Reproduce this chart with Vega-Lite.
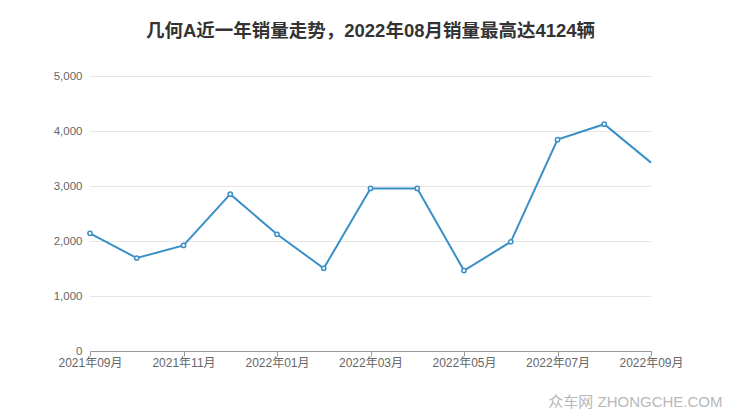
{
  "$schema": "https://vega.github.io/schema/vega-lite/v6.json",
  "width": 561,
  "height": 275,
  "autosize": {"type": "none"},
  "padding": {"left": 90, "top": 76, "right": 89, "bottom": 66},
  "background": "white",
  "title": {
    "text": "几何A近一年销量走势，2022年08月销量最高达4124辆",
    "font": "Liberation Sans, Noto Sans CJK SC",
    "fontSize": 18.5,
    "fontWeight": "bold",
    "color": "#333333",
    "anchor": "middle",
    "offset": 30
  },
  "config": {
    "view": {"stroke": null},
    "font": "Liberation Sans, Noto Sans CJK SC"
  },
  "data": {
    "values": [
      {"month": "2021年09月", "sales": 2140},
      {"month": "2021年10月", "sales": 1690},
      {"month": "2021年11月", "sales": 1920},
      {"month": "2021年12月", "sales": 2851},
      {"month": "2022年01月", "sales": 2122},
      {"month": "2022年02月", "sales": 1503},
      {"month": "2022年03月", "sales": 2955},
      {"month": "2022年04月", "sales": 2955},
      {"month": "2022年05月", "sales": 1462},
      {"month": "2022年06月", "sales": 1985},
      {"month": "2022年07月", "sales": 3843},
      {"month": "2022年08月", "sales": 4124},
      {"month": "2022年09月", "sales": 3425}
    ]
  },
  "encoding": {
    "x": {
      "field": "month",
      "type": "ordinal",
      "sort": null,
      "scale": {"type": "point", "padding": 0},
      "axis": {
        "values": ["2021年09月", "2021年11月", "2022年01月", "2022年03月", "2022年05月", "2022年07月", "2022年09月"],
        "labelAngle": 0,
        "labelColor": "#666666",
        "labelFontSize": 12,
        "labelPadding": 1,
        "labelOverlap": false,
        "domainColor": "#999999",
        "tickColor": "#999999",
        "tickSize": 5,
        "grid": false,
        "title": "众车网 ZHONGCHE.COM",
        "titleColor": "#b8b8b8",
        "titleFontSize": 15,
        "titleFontWeight": "normal",
        "titleAlign": "right",
        "titleAnchor": "end",
        "titleX": 632,
        "titleY": 55,
        "titleBaseline": "alphabetic"
      }
    },
    "y": {
      "field": "sales",
      "type": "quantitative",
      "scale": {"domain": [0, 5000], "nice": false},
      "axis": {
        "values": [0, 1000, 2000, 3000, 4000, 5000],
        "labelExpr": "format(datum.value, ',')",
        "title": null,
        "domain": false,
        "ticks": false,
        "labelColor": "#666666",
        "labelFontSize": 11.5,
        "labelPadding": 8,
        "gridColor": "#e6e6e6",
        "gridWidth": 1
      }
    }
  },
  "layer": [
    {
      "mark": {"type": "line", "color": "#3a8fc7", "strokeWidth": 2}
    },
    {
      "transform": [{"filter": "datum.month != '2022年09月'"}],
      "mark": {"type": "point", "shape": "circle", "filled": true, "fill": "white", "stroke": "#3a8fc7", "strokeWidth": 1.5, "size": 18, "opacity": 1}
    }
  ]
}
